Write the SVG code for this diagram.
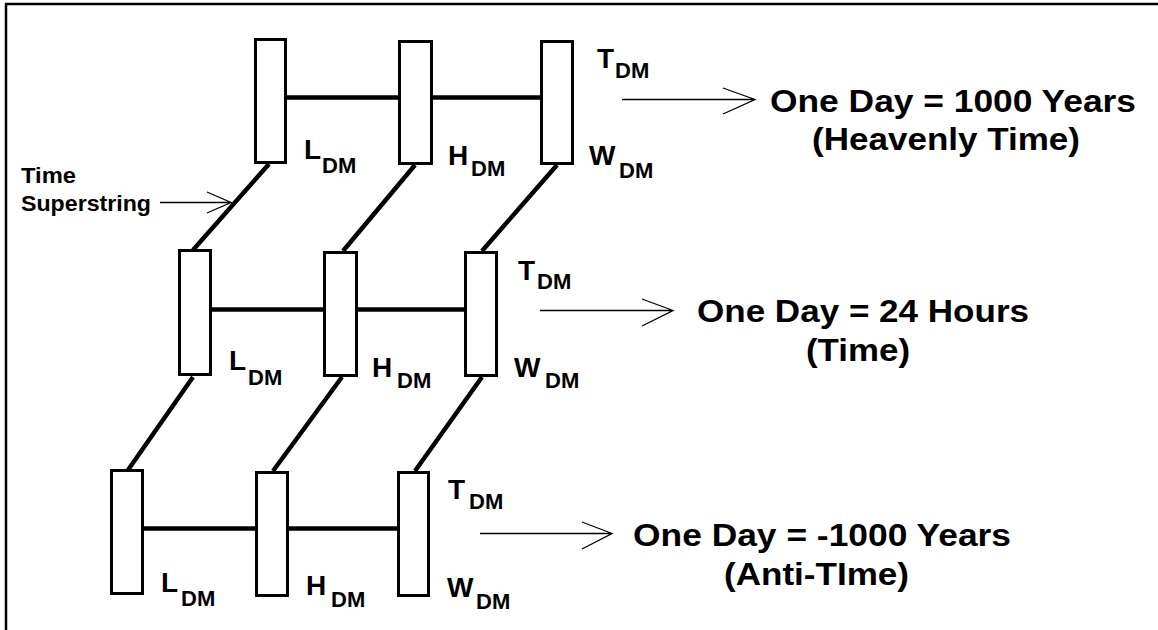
<svg xmlns="http://www.w3.org/2000/svg" width="1158" height="630" viewBox="0 0 1158 630">
<style>
.box{fill:#fff;stroke:#000;stroke-width:3}
.bar{stroke:#000;stroke-width:4.5;fill:none;stroke-linecap:butt}
.thin{stroke:#000;stroke-width:1.3;fill:none}
.lbl{font-family:"Liberation Sans",Arial,sans-serif;font-weight:bold;fill:#000}
.m{font-size:28px}
.s{font-size:22px}
.eq{font-size:32px}
.ts{font-size:22px}
</style>
<rect x="0" y="0" width="1158" height="630" fill="#fff"/>
<path d="M6,632V4H1160" stroke="#000" stroke-width="2.5" fill="none"/>

<g id="connectors">
  <path class="bar" d="M287,97.5H398M433,97.5H540"/>
  <path class="bar" d="M212,309.5H323M358,309.5H464"/>
  <path class="bar" d="M144,528.5H255M289,528.5H397"/>
  <path class="bar" d="M269,164L193,250M415,165L343,251M557,165L482,251"/>
  <path class="bar" d="M193,377L128,470M342,377L273,471M482,377L415,471"/>
  <path class="thin" d="M622,99.5H755M723,88L755,99.5L723,114"/>
  <path class="thin" d="M540,310.5H673M642,299L673,310.5L642,326"/>
  <path class="thin" d="M480,533.5H612M582,522L612,533.5L582,549"/>
  <path class="thin" d="M160,202.5H231M207,192L231,202.5L207,213"/>
</g>

<g id="top-L"><rect class="box" x="255.5" y="39.5" width="30" height="123"/>
  <text class="lbl m" x="304" y="159">L</text><text class="lbl s" x="322" y="173">DM</text></g>
<g id="top-H"><rect class="box" x="399.5" y="41.5" width="32" height="122"/>
  <text class="lbl m" x="448" y="165">H</text><text class="lbl s" x="471" y="176">DM</text></g>
<g id="top-TW"><rect class="box" x="541.5" y="41.5" width="31" height="122"/>
  <text class="lbl m" x="597" y="68">T</text><text class="lbl s" x="615" y="78">DM</text>
  <text class="lbl m" x="589" y="165">W</text><text class="lbl s" x="619" y="178">DM</text></g>

<g id="mid-L"><rect class="box" x="179.5" y="250.5" width="31" height="124"/>
  <text class="lbl m" x="229" y="370">L</text><text class="lbl s" x="248" y="385">DM</text></g>
<g id="mid-H"><rect class="box" x="324.5" y="252.5" width="32" height="123"/>
  <text class="lbl m" x="372" y="377">H</text><text class="lbl s" x="397" y="388">DM</text></g>
<g id="mid-TW"><rect class="box" x="465.5" y="252.5" width="31" height="123"/>
  <text class="lbl m" x="518" y="280">T</text><text class="lbl s" x="537" y="289">DM</text>
  <text class="lbl m" x="514" y="377">W</text><text class="lbl s" x="545" y="388">DM</text></g>

<g id="bot-L"><rect class="box" x="111.5" y="470.5" width="31" height="123"/>
  <text class="lbl m" x="161" y="592">L</text><text class="lbl s" x="181" y="606">DM</text></g>
<g id="bot-H"><rect class="box" x="256.5" y="472.5" width="31" height="123"/>
  <text class="lbl m" x="306" y="595">H</text><text class="lbl s" x="331" y="607">DM</text></g>
<g id="bot-TW"><rect class="box" x="398.5" y="472.5" width="30" height="123"/>
  <text class="lbl m" x="448" y="499">T</text><text class="lbl s" x="469" y="509">DM</text>
  <text class="lbl m" x="447" y="597">W</text><text class="lbl s" x="476" y="609">DM</text></g>

<g id="superstring-label">
  <text class="lbl ts" x="21" y="183" textLength="55" lengthAdjust="spacingAndGlyphs">Time</text>
  <text class="lbl ts" x="21" y="211" textLength="130" lengthAdjust="spacingAndGlyphs">Superstring</text>
</g>

<g id="eq-top">
  <text class="lbl eq" x="770" y="112" textLength="366" lengthAdjust="spacingAndGlyphs">One Day = 1000 Years</text>
  <text class="lbl eq" x="812" y="150" textLength="268" lengthAdjust="spacingAndGlyphs">(Heavenly Time)</text>
</g>
<g id="eq-mid">
  <text class="lbl eq" x="697" y="322" textLength="332" lengthAdjust="spacingAndGlyphs">One Day = 24 Hours</text>
  <text class="lbl eq" x="806" y="361" textLength="104" lengthAdjust="spacingAndGlyphs">(Time)</text>
</g>
<g id="eq-bot">
  <text class="lbl eq" x="633" y="546" textLength="378" lengthAdjust="spacingAndGlyphs">One Day = -1000 Years</text>
  <text class="lbl eq" x="724" y="585" textLength="185" lengthAdjust="spacingAndGlyphs">(Anti-TIme)</text>
</g>
</svg>
